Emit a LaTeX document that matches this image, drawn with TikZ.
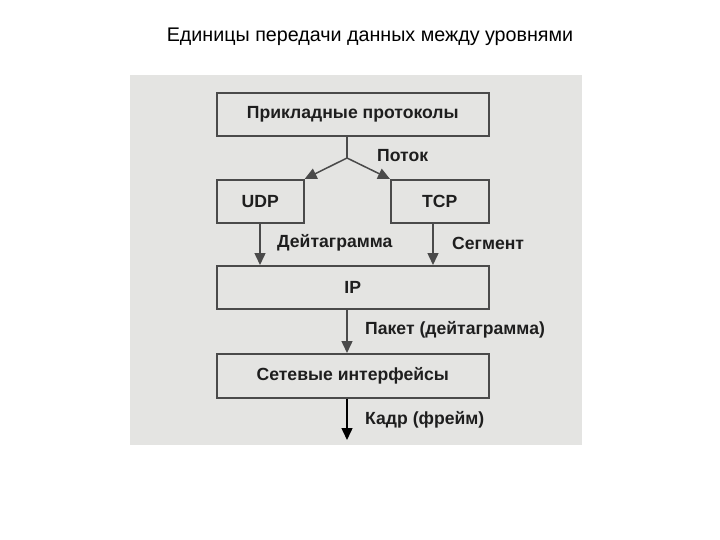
\documentclass[tikz,border=0pt]{standalone}
\usepackage{fontspec}
\setmainfont{Liberation Sans}
\usetikzlibrary{arrows.meta}
\definecolor{scan}{HTML}{E4E4E2}
\definecolor{ink}{HTML}{4A4A4A}
\definecolor{txt}{HTML}{1E1E1E}
\tikzset{
  layer/.style={draw=ink, line width=1.6pt, inner sep=0pt, anchor=north west, text=txt, font=\fontsize{17.6}{19}\selectfont\bfseries},
  flow/.style={draw=ink, line width=1.5pt, -{Triangle[length=12pt,width=11pt]}},
  unit/.style={anchor=west, text=txt, font=\fontsize{17.6}{19}\selectfont\bfseries, inner sep=0pt}
}
\begin{document}
\begin{tikzpicture}[x=1pt,y=-1pt]
\useasboundingbox (0,0) rectangle (720,540);
\fill[white] (0,0) rectangle (720,540);
\node[anchor=center, text=black, font=\fontsize{19.7}{22}\selectfont] (title) at (370,37) {Единицы передачи данных между уровнями};
\fill[scan] (130,75) rectangle (582,445);
% boxes
\node[layer, minimum width=272pt, minimum height=43pt] (app) at (216,92) {Прикладные протоколы};
\node[layer, minimum width=87pt, minimum height=43pt] (udp) at (216,179) {UDP};
\node[layer, minimum width=98pt, minimum height=43pt] (tcp) at (390,179) {TCP};
\node[layer, minimum width=272pt, minimum height=43pt] (ip) at (216,265) {IP};
\node[layer, minimum width=272pt, minimum height=44pt] (net) at (216,353) {Сетевые интерфейсы};
% connectors
\coordinate (split) at (347,158);
\coordinate (out) at (347,440);
\draw[draw=ink, line width=1.5pt] (app.south -| split) -- (split);
\draw[flow] (split) -- (udp.north east);
\draw[flow] (split) -- (tcp.north west);
\draw[flow] (udp.south -| 260,0) -- (ip.north -| 260,0);
\draw[flow] (tcp.south -| 433,0) -- (ip.north -| 433,0);
\draw[flow] (ip.south -| split) -- (net.north -| split);
\draw[flow, draw=black] (net.south -| split) -- (out);
% labels
\node[unit] (l1) at (377,156) {Поток};
\node[unit] (l2) at (277,243) {Дейтаграмма};
\node[unit] (l3) at (452,243) {Сегмент};
\node[unit] (l4) at (365,330) {Пакет (дейтаграмма)};
\node[unit] (l5) at (365,420) {Кадр (фрейм)};
\end{tikzpicture}
\end{document}
